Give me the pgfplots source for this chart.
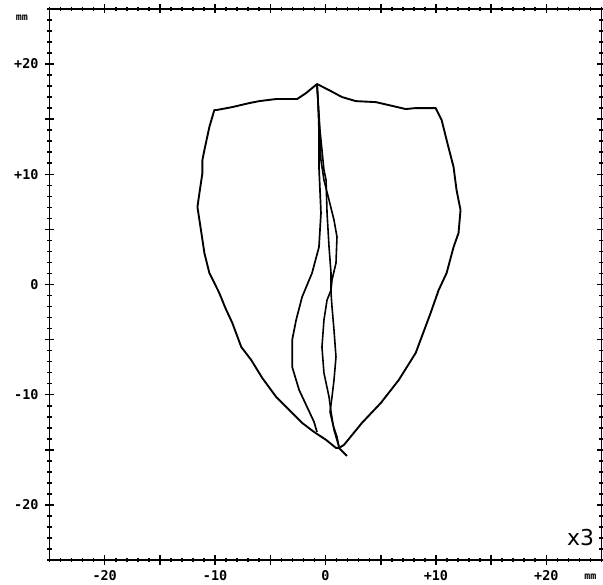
\documentclass[border=0pt]{standalone}
\usepackage{pgfplots}
\pgfplotsset{compat=1.18}
\usepackage{fontspec}
\newfontfamily\tickfont{DejaVu Sans Mono}
\newfontfamily\labfont{DejaVu Sans}
\begin{document}
\begin{tikzpicture}
\path[use as bounding box] (0,0) rectangle (603bp,585bp);
\begin{axis}[
  at={(49.5bp,25bp)}, anchor=south west,
  scale only axis, width=552bp, height=551bp,
  xmin=-25, xmax=25, ymin=-25, ymax=25,
  axis line style={line width=1.7pt},
  xtick={-20,-15,...,20}, ytick={-20,-15,...,20},
  xticklabels={-20,,-10,,0,,+10,,+20},
  yticklabels={-20,,-10,,0,,+10,,+20},
  minor xtick={-25,-24,...,25}, minor ytick={-25,-24,...,25},
  tick align=center,
  major tick length=9bp, minor tick length=4.5bp,
  every tick/.style={line width=1.6pt, black},
  tick label style={font=\tickfont\bfseries\fontsize{13.5}{13.5}\selectfont},
  xticklabel style={yshift=-2bp},
  yticklabel style={xshift=-3bp},
  clip=false,
]
% outer loop
\addplot[black, line width=1.9pt, line join=round] coordinates {
(1.94,-15.55) (1.22,-14.83) (1.67,-14.56) (3.30,-12.56) (5.01,-10.75)
(6.64,-8.66) (8.17,-6.21) (9.52,-2.59) (10.25,-0.50) (10.97,1.04)
(11.60,3.40) (12.05,4.67) (12.23,6.76) (11.87,8.57) (11.60,10.66)
(10.97,13.11) (10.52,14.92) (9.98,16.01)
(8.17,16.01) (7.27,15.92) (5.73,16.28) (4.56,16.55) (2.75,16.64)
(1.49,17.01) (0.32,17.64) (-0.77,18.19)
(-1.76,17.37) (-2.57,16.83) (-4.47,16.83) (-6.00,16.64) (-6.91,16.46)
(-8.44,16.10) (-9.88,15.83) (-10.07,15.83)
(-10.52,14.29) (-10.97,12.20) (-11.15,11.29) (-11.15,10.11) (-11.42,8.30)
(-11.60,7.03) (-11.24,4.67) (-10.97,2.86) (-10.52,1.04) (-9.62,-0.77)
(-9.07,-2.13) (-8.44,-3.49) (-7.63,-5.67) (-6.73,-6.85) (-5.73,-8.48)
(-4.47,-10.20) (-3.30,-11.38) (-2.12,-12.56) (-1.04,-13.38) (0.05,-14.10)
(0.95,-14.83) (1.22,-14.83)
};
% inner left curve
\addplot[black, line width=1.7pt, line join=round] coordinates {
(-0.77,18.19) (-0.68,16.73) (-0.59,14.01) (-0.59,10.66) (-0.41,6.49)
(-0.59,3.40) (-1.22,1.04) (-2.12,-1.13) (-2.66,-3.22) (-3.02,-5.03)
(-3.02,-7.48) (-2.39,-9.57) (-1.67,-11.11) (-1.04,-12.47) (-0.77,-13.38)
};
% narrow loop A
\addplot[black, line width=1.6pt, line join=round] coordinates {
(-0.77,18.19) (-0.59,14.92) (-0.41,11.29) (-0.14,9.48) (0.32,7.66)
(0.77,5.85) (1.04,4.31) (0.95,1.95) (0.59,0.41) (0.50,-0.50)
(0.14,-1.41) (-0.14,-3.22) (-0.32,-5.67) (-0.14,-8.03) (0.32,-10.20)
(0.50,-11.56) (0.77,-13.20) (1.22,-14.74)
};
% narrow loop B
\addplot[black, line width=1.6pt, line join=round] coordinates {
(-0.77,18.19) (-0.50,14.01) (-0.14,10.39) (0.05,9.48) (0.14,6.49)
(0.32,3.40) (0.50,1.04) (0.50,-0.77) (0.59,-2.04) (0.77,-4.13)
(0.95,-6.58) (0.77,-8.66) (0.59,-10.20) (0.41,-11.56) (0.68,-12.74)
(1.04,-13.83) (1.22,-14.74)
};
\node[font=\tickfont\bfseries\fontsize{10}{10}\selectfont, anchor=center] at (rel axis cs:-0.05,0.985) {mm};
\node[font=\tickfont\bfseries\fontsize{10}{10}\selectfont, anchor=center] at (rel axis cs:0.98,-0.03) {mm};
\node[font=\labfont\fontsize{22}{22}\selectfont, anchor=center] at (rel axis cs:0.962,0.04) {x3};
\end{axis}
\end{tikzpicture}
\end{document}
